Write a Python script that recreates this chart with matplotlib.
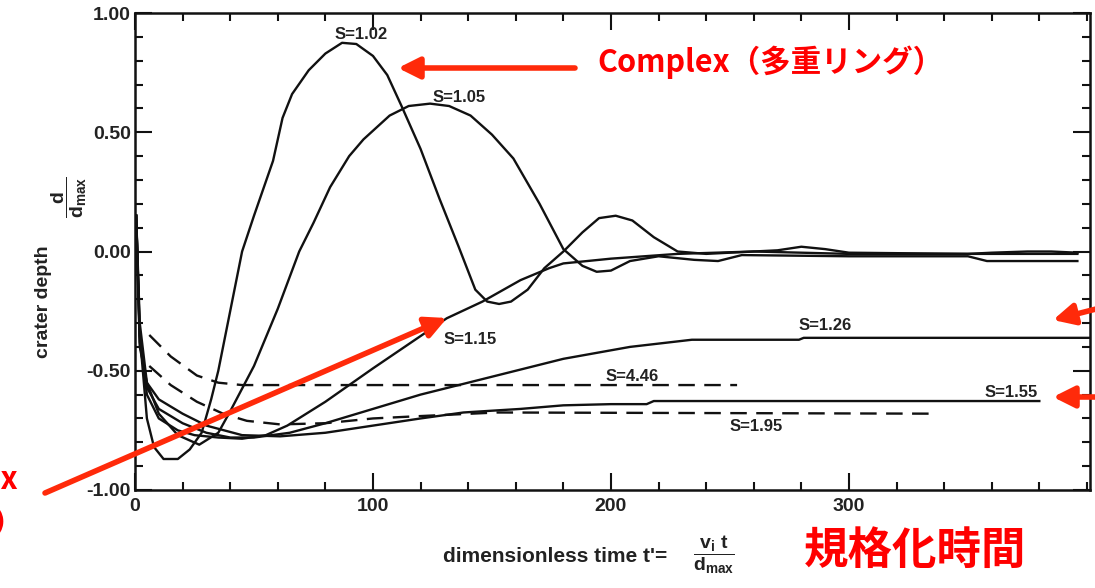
import matplotlib
matplotlib.use("Agg")
import matplotlib.pyplot as plt
from matplotlib.ticker import MultipleLocator, FormatStrFormatter

# ---------------- data ----------------
s102_t = [0.5, 2, 5, 8, 12, 18, 23, 28, 32, 35, 40, 45, 50, 58, 62, 66, 73, 80, 87, 93,
          100, 106, 112, 120, 128, 136, 143, 148, 153, 158, 165, 172, 180, 188, 195, 202, 209,
          218, 228, 240, 250, 270, 280, 290, 300, 350, 360, 375, 385, 396]
s102_d = [0.15, -0.35, -0.70, -0.82, -0.87, -0.87, -0.83, -0.76, -0.62, -0.50, -0.25, 0.0, 0.15,
          0.38, 0.56, 0.66, 0.76, 0.83, 0.875, 0.87, 0.82, 0.74, 0.61, 0.43, 0.22, 0.02,
          -0.16, -0.21, -0.22, -0.21, -0.16, -0.07, 0.00, 0.08, 0.14, 0.15, 0.13, 0.06, 0.00,
          -0.01, -0.005, 0.005, 0.02, 0.01, -0.005, -0.01, -0.005, 0.0, 0.0, -0.005]

s105_t = [0.5, 2, 5, 10, 18, 27, 35, 40, 50, 60, 69, 75, 82, 90, 96, 107, 115, 124, 132, 141,
          150, 159, 170, 180, 188, 194, 200, 208, 220, 235, 245, 255, 300, 350, 358, 396]
s105_d = [0.15, -0.30, -0.55, -0.68, -0.77, -0.81, -0.76, -0.67, -0.48, -0.24, 0.0, 0.12, 0.27,
          0.40, 0.47, 0.57, 0.61, 0.62, 0.61, 0.57, 0.49, 0.39, 0.20, 0.01, -0.06, -0.085, -0.08,
          -0.04, -0.02, -0.035, -0.04, -0.015, -0.02, -0.02, -0.04, -0.04]

s115_t = [0.5, 2, 5, 10, 18, 25, 35, 45, 55, 64, 80, 100, 131, 146, 162, 174, 180, 200, 228,
          260, 300, 350, 396]
s115_d = [0.15, -0.35, -0.60, -0.70, -0.75, -0.77, -0.78, -0.785, -0.77, -0.73, -0.63, -0.49,
          -0.28, -0.21, -0.12, -0.07, -0.05, -0.03, -0.01, 0.0, -0.01, -0.01, -0.01]

s126_t = [0.5, 2, 5, 10, 20, 30, 40, 50, 65, 80, 100, 120, 138, 160, 180, 208, 234, 279, 281, 401]
s126_d = [0.15, -0.38, -0.57, -0.66, -0.72, -0.76, -0.78, -0.78, -0.76, -0.72, -0.66, -0.60,
          -0.555, -0.50, -0.45, -0.40, -0.37, -0.37, -0.362, -0.362]

s155_t = [0.5, 2, 5, 10, 20, 30, 45, 61, 80, 100, 120, 138, 162, 180, 200, 215, 218, 380]
s155_d = [0.15, -0.40, -0.55, -0.62, -0.68, -0.73, -0.77, -0.775, -0.76, -0.73, -0.70, -0.675,
          -0.66, -0.645, -0.64, -0.64, -0.627, -0.627]

s446_t = [6, 15, 26, 35, 45, 253]
s446_d = [-0.35, -0.44, -0.52, -0.55, -0.56, -0.56]

s195_t = [6, 15, 26, 37, 47, 61, 80, 100, 120, 152, 337]
s195_d = [-0.48, -0.56, -0.63, -0.68, -0.71, -0.725, -0.72, -0.70, -0.69, -0.675, -0.68]

s_labels = ["S=1.02", "S=1.05", "S=1.15", "S=1.26", "S=4.46", "S=1.55", "S=1.95"]
s_label_x = [95, 136, 141, 290, 209, 368, 261]
s_label_y = [0.91, 0.645, -0.37, -0.31, -0.525, -0.593, -0.735]

x_ticks = [0, 100, 200, 300]
y_ticks = [-1.0, -0.5, 0.0, 0.5, 1.0]

# ---------------- figure ----------------
W, H = 1095, 588
plt.rcParams['font.family'] = ['Liberation Sans', 'DejaVu Sans']
plt.rcParams['mathtext.fontset'] = 'custom'
plt.rcParams['mathtext.rm'] = 'Liberation Sans:bold'
plt.rcParams['mathtext.bf'] = 'Liberation Sans:bold'
plt.rcParams['mathtext.it'] = 'Liberation Sans:bold'

fig = plt.figure(figsize=(W / 100, H / 100), dpi=100)
ax = fig.add_axes([135 / W, (H - 490) / H, (1090 - 135) / W, (490 - 13) / H])

ink = '#111111'
lw = 1.7
for t, d in [(s102_t, s102_d), (s105_t, s105_d), (s115_t, s115_d),
             (s126_t, s126_d), (s155_t, s155_d)]:
    ax.plot(t, d, color=ink, lw=lw, solid_joinstyle='round')
for t, d in [(s446_t, s446_d), (s195_t, s195_d)]:
    ax.plot(t, d, color=ink, lw=lw, dashes=(7, 4))

for lab, x, y in zip(s_labels, s_label_x, s_label_y):
    ax.text(x, y, lab, ha='center', va='center', fontsize=12, fontweight='bold', color='#222222')

ax.set_xlim(0, 401.3)
ax.set_ylim(-1.0, 1.0)
ax.set_xticks(x_ticks)
ax.set_yticks(y_ticks)
ax.xaxis.set_minor_locator(MultipleLocator(20))
ax.yaxis.set_minor_locator(MultipleLocator(0.1))
ax.yaxis.set_major_formatter(FormatStrFormatter('%.2f'))
ax.tick_params(which='both', direction='in', top=True, right=True, width=1.5, color=ink)
ax.tick_params(which='major', length=12)
ax.tick_params(which='minor', length=6)
ax.tick_params(axis='x', which='major', pad=6)
ax.tick_params(axis='y', which='major', pad=3)
for lab in ax.get_xticklabels() + ax.get_yticklabels():
    lab.set_fontsize(14)
    lab.set_fontweight('bold')
    lab.set_color('#222222')
for sp in ax.spines.values():
    sp.set_linewidth(1.8)
    sp.set_color(ink)


def ff(x, y):
    """top-left pixel -> figure fraction"""
    return (x / W, 1 - y / H)


# axis labels
fig.text(*ff(555, 557), "dimensionless time t'=", ha='center', va='center', fontsize=15,
         fontweight='bold', color='#222222')
fig.text(*ff(714, 555), r"$\dfrac{\mathbf{v_i\ t}}{\mathbf{d_{max}}}$", ha='center', va='center',
         fontsize=14, color='#222222')
fig.text(*ff(44, 302), "crater depth", ha='center', va='center', rotation=90, fontsize=14,
         fontweight='bold', color='#222222')
fig.text(*ff(69, 197), r"$\dfrac{\mathbf{d}}{\mathbf{d_{max}}}$", ha='center', va='center',
         rotation=90, fontsize=14, color='#222222')

# red annotations
red = '#ff0000'
arrow_red = '#ff2a0a'
cjk = ['Noto Sans CJK JP', 'DejaVu Sans']
fig.text(*ff(770, 62), "Complex（多重リング）", ha='center', va='center', fontsize=22,
         fontweight='bold', color=red, family=cjk)
fig.text(*ff(915, 551), "規格化時間", ha='center', va='center', fontsize=32,
         fontweight='bold', color=red, family=cjk)
fig.text(*ff(18, 480), "Complex", ha='right', va='center', fontsize=22,
         fontweight='bold', color=red, family=cjk)
fig.text(*ff(24, 524), "（中央丘）", ha='right', va='center', fontsize=22,
         fontweight='bold', color=red, family=cjk)

arrows = [((575, 68), (398, 68)), ((45, 493), (447, 318)),
          ((1100, 308), (1053, 320)), ((1100, 397), (1053, 397))]
for (x0, y0), (x1, y1) in arrows:
    ax.annotate('', xy=ff(x1, y1), xytext=ff(x0, y0), xycoords='figure fraction',
                textcoords='figure fraction', annotation_clip=False,
                arrowprops=dict(arrowstyle='-|>,head_length=0.8,head_width=0.4', lw=4,
                                color=arrow_red, shrinkA=0, shrinkB=0, mutation_scale=16))

fig.savefig('out.png', dpi=100)
